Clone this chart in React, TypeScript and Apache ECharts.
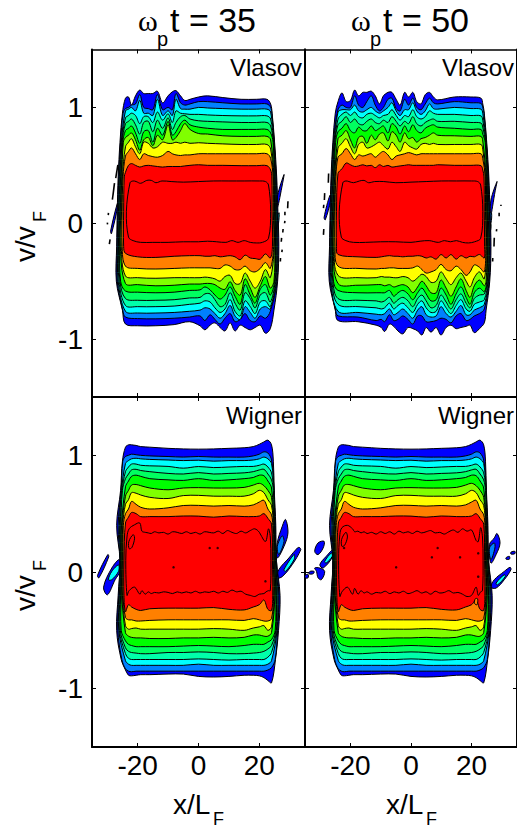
import React, { useEffect, useRef } from "react";
import * as echarts from "echarts";

const xTicks = [-20, 0, 20];
const yTicks = [-1, 0, 1];
const levelColors = ["#0000ff", "#0080ff", "#00ffff", "#00ffaa", "#00ff60", "#00ff00", "#80ff00", "#ffff00", "#ff8000", "#ff0000", "#ff0000"];
const sideStations = [0.95, 0.7, 0.4, 0.1, -0.2, -0.5, -0.75];

const vlasovLeft = [
  [-25, -25.8, -26.4, -26.7, -26.9, -27, -25],
  [-24.8, -25.6, -26.2, -26.5, -26.7, -26.7, -24.9],
  [-24.6, -25.4, -26, -26.3, -26.5, -26.4, -24.8],
  [-24.5, -25.2, -25.8, -26.1, -26.3, -26.1, -24.7],
  [-24.4, -25.1, -25.6, -25.9, -26.1, -25.8, -24.6],
  [-24.3, -24.9, -25.4, -25.7, -25.9, -25.6, -24.5],
  [-24.2, -24.7, -25.2, -25.5, -25.7, -25.3, -24.4],
  [-24.1, -24.5, -25, -25.3, -25.4, -25.1, -24.3],
  [-24, -24.3, -24.8, -25.1, -25.1, -24.8, -24.2],
  [-23.8, -24, -24.4, -24.6, -24.6, -24.4, -24],
  [-22, -23, -23.4, -23.7, -23.6, -23, -22],
];
const vlasovRight = [
  [24.2, 25, 25.7, 26.1, 26.4, 26, 24.8],
  [24.1, 24.9, 25.5, 25.9, 26.1, 25.8, 24.7],
  [24, 24.8, 25.4, 25.7, 25.9, 25.6, 24.6],
  [24, 24.7, 25.2, 25.5, 25.7, 25.4, 24.5],
  [23.9, 24.6, 25.1, 25.3, 25.5, 25.2, 24.4],
  [23.9, 24.5, 24.9, 25.2, 25.3, 25, 24.3],
  [23.8, 24.4, 24.8, 25, 25.1, 24.8, 24.2],
  [23.8, 24.3, 24.6, 24.8, 24.9, 24.6, 24.1],
  [23.7, 24.2, 24.5, 24.6, 24.7, 24.4, 24],
  [23.6, 24, 24.1, 24.2, 24.3, 24.1, 23.9],
  [22, 23, 23.4, 23.7, 23.7, 23, 22],
];
const wignerLeft = [
  [-25, -25.6, -26.9, -25.8, -26.4, -26.9, -25.4],
  [-24.9, -25.4, -26.4, -25.8, -26.2, -26.5, -25.2],
  [-24.7, -25.3, -26, -25.7, -26, -26.2, -25.1],
  [-24.5, -25.1, -25.7, -25.6, -25.8, -26, -24.9],
  [-24.3, -25, -25.5, -25.5, -25.6, -25.7, -24.7],
  [-24.2, -24.8, -25.3, -25.4, -25.4, -25.4, -24.6],
  [-24.1, -24.6, -25.1, -25.2, -25.2, -25.1, -24.5],
  [-24, -24.4, -24.9, -25, -25, -24.9, -24.4],
  [-24, -24.3, -24.7, -24.8, -24.8, -24.6, -24.3],
  [-24, -24.2, -24.4, -24.5, -24.5, -24.4, -24.2],
  [-23, -23.4, -23.8, -23.9, -23.8, -23.4, -23],
];
const wignerRight = [
  [24.6, 24.9, 25.4, 25.6, 26.8, 26.3, 25.3],
  [24.5, 24.8, 25.2, 25.6, 26.4, 26, 25.2],
  [24.4, 24.8, 25.1, 25.5, 26.1, 25.8, 25],
  [24.3, 24.7, 25, 25.4, 25.8, 25.6, 24.9],
  [24.2, 24.6, 24.9, 25.3, 25.6, 25.4, 24.7],
  [24.2, 24.5, 24.8, 25.1, 25.4, 25.2, 24.6],
  [24.1, 24.4, 24.7, 24.9, 25.1, 25, 24.5],
  [24.1, 24.3, 24.6, 24.8, 24.9, 24.8, 24.4],
  [24, 24.2, 24.4, 24.6, 24.7, 24.6, 24.3],
  [24, 24.1, 24.2, 24.3, 24.4, 24.3, 24.2],
  [23, 23.4, 23.6, 23.8, 23.8, 23.4, 23],
];

const innerTopX = [-22.5, -21.5, -20.5, -19, -17, -15.5, -14, -12, -9, -5, 0, 5, 10, 15, 20, 22, 23];
const innerBottomX = [-23, -21.5, -19, -15, -10, -5, 0, 3, 6, 9, 11, 13, 15, 17, 19, 21, 23];

// ---- Vlasov, t = 35
const a35TopX = [-24, -23, -22, -20.7, -19.3, -18, -16.5, -15, -13.5, -11.8, -10, -8.6, -7.4, -5.9, -4.5, -2.8, 0, 3, 8, 14, 19, 22.5, 23.7];
const a35Top = [
  [1.08, 1.09, 1.02, 1.10, 1.15, 1.12, 1.12, 1.12, 1.14, 1.04, 1.10, 1.135, 1.145, 1.10, 1.06, 1.07, 1.09, 1.10, 1.085, 1.07, 1.07, 1.07, 1.03],
  [0.99, 1.0, 1.02, 1.03, 1.11, 1.0, 0.99, 0.98, 1.11, 0.98, 1.0, 0.98, 1.12, 1.04, 1.02, 1.03, 1.05, 1.05, 1.04, 1.03, 1.03, 1.03, 1.0],
  [0.97, 0.985, 1.0, 0.97, 1.06, 0.95, 0.95, 0.93, 1.07, 0.93, 0.97, 0.93, 1.07, 0.99, 0.985, 0.985, 1.0, 0.995, 0.99, 0.985, 0.985, 0.985, 0.96],
  [0.91, 0.93, 0.95, 0.93, 0.86, 0.92, 0.92, 0.87, 0.96, 0.89, 0.945, 0.87, 0.97, 0.95, 0.945, 0.94, 0.94, 0.935, 0.93, 0.927, 0.927, 0.927, 0.9],
  [0.86, 0.88, 0.90, 0.85, 0.77, 0.87, 0.88, 0.79, 0.89, 0.82, 0.91, 0.81, 0.87, 0.92, 0.93, 0.90, 0.885, 0.88, 0.875, 0.87, 0.87, 0.87, 0.84],
  [0.80, 0.82, 0.84, 0.78, 0.69, 0.79, 0.80, 0.70, 0.82, 0.76, 0.88, 0.76, 0.79, 0.86, 0.89, 0.85, 0.83, 0.82, 0.81, 0.81, 0.81, 0.81, 0.78],
  [0.74, 0.76, 0.78, 0.72, 0.63, 0.72, 0.74, 0.67, 0.76, 0.72, 0.85, 0.72, 0.74, 0.80, 0.86, 0.81, 0.775, 0.77, 0.755, 0.75, 0.75, 0.75, 0.72],
  [0.66, 0.70, 0.73, 0.66, 0.60, 0.70, 0.69, 0.65, 0.66, 0.70, 0.69, 0.69, 0.70, 0.69, 0.70, 0.69, 0.695, 0.69, 0.685, 0.68, 0.68, 0.68, 0.64],
  [0.58, 0.62, 0.65, 0.60, 0.55, 0.60, 0.585, 0.575, 0.57, 0.585, 0.62, 0.60, 0.59, 0.585, 0.59, 0.59, 0.60, 0.60, 0.60, 0.60, 0.60, 0.60, 0.56],
  [0.44, 0.50, 0.515, 0.50, 0.485, 0.495, 0.50, 0.495, 0.49, 0.485, 0.49, 0.49, 0.49, 0.49, 0.495, 0.50, 0.505, 0.50, 0.50, 0.497, 0.497, 0.497, 0.46],
];
const a35InnerTop = [0.35, 0.365, 0.36, 0.345, 0.37, 0.37, 0.35, 0.365, 0.36, 0.355, 0.36, 0.365, 0.365, 0.365, 0.365, 0.36, 0.33];
const a35BottomX = [-24, -20, -14, -8, -3, 0.5, 2.1, 3.8, 5.4, 7.1, 8.7, 10.4, 12, 13.7, 15.3, 17, 18.6, 20.3, 22, 23.6];
const a35Bottom = [
  [-0.87, -0.885, -0.885, -0.875, -0.85, -0.885, -0.92, -0.88, -0.86, -0.90, -0.93, -0.86, -0.93, -0.88, -0.90, -0.92, -0.90, -0.88, -0.95, -0.91],
  [-0.81, -0.823, -0.825, -0.82, -0.81, -0.80, -0.84, -0.79, -0.83, -0.87, -0.82, -0.78, -0.85, -0.83, -0.78, -0.84, -0.85, -0.80, -0.82, -0.76],
  [-0.76, -0.775, -0.775, -0.77, -0.76, -0.75, -0.73, -0.74, -0.78, -0.82, -0.78, -0.71, -0.80, -0.83, -0.72, -0.77, -0.82, -0.74, -0.72, -0.74],
  [-0.71, -0.72, -0.72, -0.715, -0.70, -0.69, -0.67, -0.68, -0.73, -0.77, -0.74, -0.66, -0.76, -0.80, -0.67, -0.72, -0.78, -0.68, -0.67, -0.72],
  [-0.65, -0.665, -0.665, -0.66, -0.645, -0.64, -0.61, -0.61, -0.66, -0.72, -0.70, -0.60, -0.69, -0.75, -0.60, -0.65, -0.73, -0.62, -0.60, -0.68],
  [-0.585, -0.595, -0.60, -0.595, -0.58, -0.575, -0.55, -0.575, -0.62, -0.655, -0.62, -0.55, -0.63, -0.70, -0.53, -0.62, -0.69, -0.57, -0.53, -0.62],
  [-0.52, -0.53, -0.54, -0.535, -0.525, -0.525, -0.52, -0.52, -0.53, -0.56, -0.57, -0.505, -0.58, -0.62, -0.48, -0.56, -0.64, -0.54, -0.46, -0.56],
  [-0.455, -0.47, -0.475, -0.47, -0.47, -0.47, -0.465, -0.47, -0.48, -0.50, -0.46, -0.45, -0.52, -0.52, -0.43, -0.50, -0.56, -0.50, -0.40, -0.47],
  [-0.37, -0.39, -0.395, -0.39, -0.385, -0.385, -0.385, -0.385, -0.39, -0.39, -0.36, -0.37, -0.40, -0.40, -0.37, -0.41, -0.42, -0.39, -0.34, -0.39],
  [-0.26, -0.29, -0.295, -0.285, -0.28, -0.28, -0.285, -0.285, -0.28, -0.29, -0.285, -0.28, -0.29, -0.315, -0.275, -0.30, -0.305, -0.31, -0.265, -0.30],
];
const a35InnerBottom = [-0.12, -0.15, -0.165, -0.165, -0.165, -0.16, -0.16, -0.155, -0.16, -0.165, -0.15, -0.165, -0.15, -0.165, -0.17, -0.165, -0.13];

// ---- Vlasov, t = 50
const b50TopX = [-24.1, -22.8, -21.4, -20, -18.6, -17.3, -15.9, -14.6, -13.1, -11.8, -10.4, -9.1, -7.6, -6.3, -4.9, -3.6, -2.1, -0.8, 0.6, 1.9, 3.3, 4.7, 6.1, 7.4, 8.8, 14.3, 19.8, 23.1, 23.7];
const b50Top = [
  [1.05, 1.125, 1.05, 1.06, 1.15, 1.10, 1.13, 1.13, 1.14, 1.10, 1.03, 1.10, 1.13, 1.13, 1.07, 1.02, 1.13, 1.09, 1.13, 1.05, 1.03, 1.11, 1.13, 1.09, 1.065, 1.09, 1.09, 1.08, 1.03],
  [0.98, 1.02, 1.0, 1.0, 1.10, 1.02, 1.0, 1.05, 1.10, 1.02, 0.97, 1.0, 1.07, 1.08, 0.99, 0.97, 1.07, 1.02, 1.08, 1.0, 0.98, 1.03, 1.08, 1.04, 1.03, 1.05, 1.04, 1.035, 1.0],
  [0.96, 0.98, 0.98, 0.98, 1.02, 0.97, 0.96, 0.98, 1.0, 0.97, 0.95, 0.97, 1.0, 1.04, 0.97, 0.93, 0.98, 0.98, 1.04, 0.97, 0.94, 0.97, 1.03, 0.99, 0.985, 1.0, 0.99, 0.985, 0.95],
  [0.90, 0.94, 0.96, 0.93, 0.96, 0.92, 0.91, 0.94, 0.95, 0.93, 0.91, 0.93, 0.94, 0.98, 0.93, 0.89, 0.93, 0.92, 0.98, 0.92, 0.90, 0.92, 0.97, 0.95, 0.94, 0.94, 0.93, 0.927, 0.89],
  [0.85, 0.88, 0.92, 0.87, 0.90, 0.86, 0.85, 0.88, 0.90, 0.87, 0.86, 0.89, 0.87, 0.92, 0.88, 0.84, 0.88, 0.86, 0.92, 0.86, 0.84, 0.87, 0.89, 0.90, 0.88, 0.88, 0.87, 0.865, 0.83],
  [0.79, 0.82, 0.86, 0.80, 0.78, 0.83, 0.80, 0.80, 0.84, 0.80, 0.82, 0.84, 0.78, 0.86, 0.83, 0.77, 0.84, 0.79, 0.85, 0.80, 0.78, 0.82, 0.84, 0.85, 0.83, 0.82, 0.81, 0.81, 0.77],
  [0.73, 0.76, 0.80, 0.72, 0.65, 0.74, 0.75, 0.69, 0.76, 0.72, 0.77, 0.78, 0.71, 0.79, 0.76, 0.70, 0.78, 0.73, 0.74, 0.70, 0.73, 0.74, 0.76, 0.78, 0.76, 0.755, 0.75, 0.75, 0.71],
  [0.65, 0.69, 0.73, 0.66, 0.60, 0.68, 0.70, 0.65, 0.66, 0.68, 0.70, 0.67, 0.64, 0.70, 0.66, 0.62, 0.70, 0.67, 0.65, 0.64, 0.68, 0.69, 0.68, 0.69, 0.68, 0.68, 0.68, 0.68, 0.64],
  [0.57, 0.60, 0.645, 0.60, 0.55, 0.59, 0.58, 0.59, 0.60, 0.57, 0.60, 0.62, 0.59, 0.55, 0.58, 0.59, 0.60, 0.61, 0.60, 0.59, 0.60, 0.60, 0.60, 0.60, 0.60, 0.60, 0.60, 0.60, 0.56],
  [0.43, 0.47, 0.52, 0.505, 0.49, 0.495, 0.505, 0.495, 0.50, 0.48, 0.505, 0.49, 0.50, 0.485, 0.49, 0.495, 0.50, 0.505, 0.50, 0.50, 0.50, 0.50, 0.50, 0.50, 0.505, 0.50, 0.50, 0.497, 0.46],
];
const b50InnerTop = [0.35, 0.365, 0.36, 0.35, 0.365, 0.37, 0.35, 0.36, 0.36, 0.35, 0.355, 0.36, 0.365, 0.365, 0.365, 0.36, 0.33];
const b50BottomX = [-24.1, -17.5, -11.5, -9.8, -8.7, -7.1, -5.7, -4.3, -2.7, -1, 0.6, 2.2, 3.6, 5, 6.6, 8.3, 9.9, 11.6, 13.2, 14.9, 16.5, 18.2, 19.5, 20.9, 22.6, 24.2];
const b50Bottom = [
  [-0.84, -0.85, -0.88, -0.90, -0.935, -0.87, -0.89, -0.93, -0.955, -0.90, -0.91, -0.93, -0.965, -0.90, -0.94, -0.90, -0.965, -0.90, -0.88, -0.91, -0.90, -0.89, -0.88, -0.945, -0.91, -0.86],
  [-0.80, -0.81, -0.84, -0.83, -0.85, -0.79, -0.84, -0.83, -0.80, -0.83, -0.87, -0.80, -0.80, -0.85, -0.85, -0.84, -0.82, -0.83, -0.86, -0.80, -0.78, -0.84, -0.83, -0.80, -0.78, -0.74],
  [-0.76, -0.77, -0.785, -0.79, -0.78, -0.74, -0.79, -0.77, -0.74, -0.78, -0.82, -0.75, -0.72, -0.79, -0.81, -0.80, -0.72, -0.78, -0.81, -0.76, -0.71, -0.79, -0.79, -0.75, -0.73, -0.70],
  [-0.70, -0.72, -0.73, -0.74, -0.73, -0.69, -0.74, -0.71, -0.69, -0.73, -0.77, -0.70, -0.67, -0.73, -0.77, -0.76, -0.67, -0.73, -0.78, -0.71, -0.66, -0.74, -0.76, -0.70, -0.68, -0.66],
  [-0.65, -0.665, -0.67, -0.68, -0.67, -0.64, -0.69, -0.66, -0.64, -0.67, -0.72, -0.65, -0.62, -0.67, -0.73, -0.71, -0.62, -0.68, -0.74, -0.66, -0.61, -0.69, -0.73, -0.65, -0.62, -0.61],
  [-0.58, -0.60, -0.60, -0.60, -0.60, -0.58, -0.63, -0.60, -0.58, -0.61, -0.66, -0.60, -0.56, -0.61, -0.67, -0.66, -0.56, -0.62, -0.70, -0.61, -0.55, -0.64, -0.70, -0.60, -0.56, -0.59],
  [-0.52, -0.535, -0.53, -0.53, -0.54, -0.53, -0.55, -0.54, -0.53, -0.55, -0.60, -0.55, -0.50, -0.54, -0.60, -0.60, -0.49, -0.56, -0.63, -0.55, -0.48, -0.58, -0.64, -0.54, -0.49, -0.54],
  [-0.45, -0.47, -0.47, -0.46, -0.465, -0.465, -0.47, -0.47, -0.46, -0.47, -0.50, -0.47, -0.44, -0.46, -0.51, -0.50, -0.42, -0.48, -0.53, -0.47, -0.43, -0.50, -0.55, -0.47, -0.42, -0.48],
  [-0.37, -0.39, -0.395, -0.39, -0.39, -0.385, -0.385, -0.39, -0.39, -0.39, -0.385, -0.37, -0.40, -0.43, -0.42, -0.40, -0.355, -0.40, -0.41, -0.37, -0.40, -0.45, -0.42, -0.36, -0.38, -0.42],
  [-0.27, -0.29, -0.295, -0.29, -0.285, -0.28, -0.285, -0.285, -0.29, -0.285, -0.285, -0.28, -0.285, -0.30, -0.29, -0.31, -0.27, -0.30, -0.27, -0.31, -0.28, -0.30, -0.285, -0.29, -0.27, -0.30],
];
const b50InnerBottom = [-0.12, -0.15, -0.165, -0.165, -0.16, -0.16, -0.165, -0.155, -0.15, -0.165, -0.15, -0.16, -0.15, -0.165, -0.17, -0.16, -0.13];

// ---- Wigner (both times share the outer contours)
const wignerX = [-24, -23, -22, -20.5, -19, -16, -10, -5, 0, 5, 10, 15, 18, 20, 21.5, 22.8, 24];
const wignerTop = [
  [1.07, 1.09, 1.09, 1.085, 1.075, 1.07, 1.06, 1.055, 1.053, 1.055, 1.06, 1.065, 1.075, 1.095, 1.115, 1.13, 1.09],
  [0.99, 1.0, 1.01, 1.005, 1.0, 0.995, 0.99, 0.985, 0.99, 0.985, 0.985, 0.985, 0.995, 1.01, 1.03, 1.02, 0.96],
  [0.93, 0.955, 0.97, 0.975, 0.97, 0.965, 0.96, 0.955, 0.958, 0.95, 0.955, 0.955, 0.96, 0.97, 0.985, 0.97, 0.93],
  [0.86, 0.90, 0.925, 0.925, 0.915, 0.91, 0.905, 0.89, 0.904, 0.895, 0.90, 0.905, 0.905, 0.915, 0.925, 0.90, 0.85],
  [0.80, 0.84, 0.875, 0.88, 0.87, 0.86, 0.845, 0.84, 0.852, 0.84, 0.845, 0.85, 0.86, 0.875, 0.88, 0.84, 0.79],
  [0.73, 0.78, 0.82, 0.83, 0.82, 0.80, 0.79, 0.785, 0.80, 0.785, 0.79, 0.80, 0.81, 0.83, 0.825, 0.78, 0.72],
  [0.65, 0.70, 0.745, 0.75, 0.74, 0.72, 0.705, 0.72, 0.723, 0.72, 0.72, 0.725, 0.745, 0.76, 0.74, 0.70, 0.64],
  [0.58, 0.62, 0.68, 0.675, 0.66, 0.64, 0.63, 0.655, 0.657, 0.65, 0.65, 0.65, 0.67, 0.70, 0.68, 0.62, 0.57],
  [0.50, 0.54, 0.605, 0.58, 0.555, 0.54, 0.55, 0.57, 0.571, 0.565, 0.57, 0.565, 0.575, 0.60, 0.615, 0.54, 0.49],
  [0.42, 0.47, 0.51, 0.50, 0.475, 0.475, 0.475, 0.48, 0.479, 0.47, 0.48, 0.475, 0.475, 0.48, 0.50, 0.46, 0.41],
];
const wignerBottom = [
  [-0.84, -0.885, -0.89, -0.885, -0.88, -0.88, -0.875, -0.875, -0.895, -0.90, -0.895, -0.885, -0.885, -0.89, -0.905, -0.93, -0.95],
  [-0.83, -0.85, -0.855, -0.85, -0.85, -0.85, -0.85, -0.85, -0.85, -0.85, -0.85, -0.85, -0.85, -0.85, -0.85, -0.84, -0.82],
  [-0.76, -0.79, -0.80, -0.80, -0.80, -0.80, -0.80, -0.80, -0.79, -0.80, -0.80, -0.80, -0.80, -0.80, -0.80, -0.79, -0.76],
  [-0.70, -0.74, -0.75, -0.75, -0.75, -0.75, -0.75, -0.75, -0.745, -0.75, -0.755, -0.75, -0.75, -0.75, -0.75, -0.73, -0.69],
  [-0.65, -0.68, -0.69, -0.695, -0.70, -0.70, -0.69, -0.69, -0.685, -0.69, -0.70, -0.70, -0.695, -0.69, -0.68, -0.66, -0.63],
  [-0.59, -0.62, -0.63, -0.64, -0.64, -0.64, -0.64, -0.635, -0.63, -0.635, -0.64, -0.63, -0.62, -0.62, -0.62, -0.60, -0.58],
  [-0.52, -0.55, -0.56, -0.565, -0.565, -0.57, -0.57, -0.565, -0.565, -0.56, -0.565, -0.56, -0.54, -0.54, -0.55, -0.55, -0.52],
  [-0.46, -0.49, -0.485, -0.48, -0.49, -0.49, -0.49, -0.49, -0.49, -0.485, -0.49, -0.50, -0.48, -0.47, -0.46, -0.50, -0.47],
  [-0.39, -0.41, -0.41, -0.42, -0.42, -0.415, -0.41, -0.41, -0.41, -0.41, -0.41, -0.415, -0.40, -0.41, -0.42, -0.42, -0.40],
  [-0.34, -0.28, -0.30, -0.32, -0.33, -0.315, -0.31, -0.31, -0.31, -0.305, -0.32, -0.325, -0.30, -0.28, -0.24, -0.32, -0.33],
];
const wignerInnerX = [-23.5, -22.8, -21, -19.3, -18.6, -17.5, -16.5, -15.5, -14.5, -13, -11.5, -10, -8.5, -7, -5.5, -4, -2.5, -1, 0.5, 2, 3.5, 5, 6.5, 8, 9.5, 11, 12.5, 14, 15.5, 17, 18.5, 20, 21.5, 22.2, 23, 23.6];
const c35InnerTop = [0.30, 0.37, 0.405, 0.42, 0.35, 0.34, 0.335, 0.33, 0.345, 0.335, 0.34, 0.325, 0.345, 0.34, 0.33, 0.345, 0.33, 0.34, 0.325, 0.345, 0.34, 0.335, 0.35, 0.33, 0.355, 0.34, 0.33, 0.35, 0.335, 0.355, 0.37, 0.34, 0.27, 0.265, 0.37, 0.30];
const c35InnerBottom = [-0.20, -0.16, -0.13, -0.19, -0.16, -0.19, -0.17, -0.185, -0.175, -0.18, -0.17, -0.175, -0.185, -0.17, -0.18, -0.17, -0.18, -0.165, -0.18, -0.17, -0.175, -0.165, -0.18, -0.165, -0.175, -0.155, -0.17, -0.165, -0.19, -0.20, -0.21, -0.19, -0.185, -0.17, -0.16, -0.16];
const d50InnerTop = [0.32, 0.38, 0.40, 0.37, 0.345, 0.35, 0.335, 0.345, 0.33, 0.34, 0.325, 0.345, 0.33, 0.345, 0.325, 0.35, 0.335, 0.345, 0.33, 0.35, 0.335, 0.345, 0.355, 0.335, 0.34, 0.325, 0.345, 0.36, 0.34, 0.37, 0.35, 0.36, 0.27, 0.26, 0.38, 0.30];
const d50InnerBottom = [-0.21, -0.17, -0.13, -0.19, -0.14, -0.19, -0.16, -0.18, -0.17, -0.19, -0.175, -0.18, -0.165, -0.185, -0.17, -0.18, -0.165, -0.185, -0.175, -0.16, -0.18, -0.17, -0.19, -0.165, -0.18, -0.175, -0.16, -0.18, -0.175, -0.19, -0.21, -0.20, -0.13, -0.20, -0.17, -0.16];

// ---- Phase-space filaments outside the main body: [colour, x, v, x, v, ...]
const a35Filaments: (string | number)[][] = [
  ["#0000ff", -26.7, 0.17, -26.5, 0.15, -28.6, -0.09, -28.9, -0.07],
  ["#0000ff", 28.1, 0.42, 27.6, 0.34, 26.0, 0.14, 26.0, 0.24],
  ["#00ffff", 26.5, 0.09, 26.3, 0.0, 25.8, -0.05, 25.9, 0.06],
];
const a35Dashes = [
  [-26.5, 0.505, -27.2, 0.39], [-27.6, 0.347, -28.3, 0.204], [-29.6, 0.09, -29.65, 0.07], [-29.9, 0.005, -29.95, -0.01], [-29.05, -0.14, -29.3, -0.18],
  [29.4, 0.19, 29.3, 0.13], [28.4, 0.1, 28.4, 0.07], [28.4, 0.02, 28.3, -0.0], [27.8, -0.05, 27.7, -0.08], [27.3, -0.126, 27.2, -0.16], [27.5, -0.227, 27.4, -0.25], [26.95, -0.3, 26.9, -0.33],
];
const b50Filaments: (string | number)[][] = [
  ["#0000ff", -26.8, 0.24, -26.5, 0.2, -28.3, 0.03, -28.7, 0.05],
  ["#0000ff", 28.4, 0.36, 27.8, 0.28, 26.3, 0.06, 26.4, 0.2],
  ["#0080ff", 26.6, 0.09, 26.4, 0.0, 25.9, 0.0, 26.0, 0.09],
  ["#00ffff", 26.4, 0.0, 26.3, -0.06, 25.8, -0.08, 25.9, 0.0],
];
const b50Dashes = [
  [-27.2, 0.43, -27.3, 0.35], [-28.5, 0.26, -28.6, 0.2], [-28.8, 0.16, -28.9, 0.13], [-28.8, -0.05, -28.9, -0.1],
  [29.7, 0.16, 29.7, 0.15], [29.1, 0.09, 29.1, 0.06], [28.3, -0.05, 28.2, -0.07], [27.5, -0.126, 27.4, -0.2], [27, -0.3, 26.95, -0.33],
];
const c35Filaments: (string | number)[][] = [
  ["#0000ff", -29.8, 0.15, -29.5, 0.13, -32.7, -0.05, -33.2, -0.03],
  ["#0000ff", -26, 0.106, -28.5, 0.034, -31.2, -0.13, -29.9, -0.195, -27.4, -0.066, -25.8, 0.005],
  ["#00ffff", -26.3, 0.06, -28.5, 0.005, -29.6, -0.066, -28.5, -0.066, -26.3, 0.005],
  ["#0000ff", 25.9, 0.25, 27.5, 0.39, 28.6, 0.45, 29.4, 0.335, 28.1, 0.22, 25.9, 0.12],
  ["#0080ff", 25.9, 0.22, 27.5, 0.31, 28.1, 0.26, 26.4, 0.15],
  ["#0000ff", 33.2, 0.21, 32.5, 0.206, 29.7, 0.12, 26.4, 0.02, 25.9, -0.05, 27.5, -0.04, 30.8, 0.063, 33.6, 0.19],
  ["#00ffff", 31.4, 0.15, 28.1, 0.02, 28.6, 0.005, 31.4, 0.106],
];
const d50Filaments: (string | number)[][] = [
  ["#0000ff", -28.7, 0.263, -30.7, 0.249, -31.8, 0.177, -30.7, 0.149, -29, 0.206],
  ["#0000ff", -25.8, 0.19, -28, 0.134, -30.1, 0.063, -29, 0.034, -25.8, 0.134],
  ["#00ffff", -26.3, 0.163, -28.5, 0.091, -28, 0.077, -26, 0.134],
  ["#0000ff", -31.8, 0.034, -30.1, 0.034, -28.5, 0.005, -29.6, -0.066, -30.7, -0.05, -31.2, 0.005],
  ["#0000ff", -33.4, 0.005, -32, 0.005, -32.3, -0.015, -33.7, -0.015],
  ["#0000ff", -35, -0.03, -34, -0.02, -34, -0.05, -35, -0.05],
  ["#0000ff", 25.9, 0.235, 27.5, 0.292, 28.4, 0.33, 29.4, 0.249, 28.1, 0.149, 26.4, 0.077],
  ["#0080ff", 25.9, 0.206, 27.5, 0.249, 27.7, 0.206, 26.4, 0.106],
  ["#0000ff", 32.7, 0.04, 30.8, 0.005, 27.5, -0.066, 26.4, -0.13, 28.1, -0.138, 30.8, -0.066, 33, 0.02],
  ["#00ffff", 30.8, -0.023, 28.1, -0.095, 28.6, -0.11, 31.1, -0.04],
  ["#0000ff", 33, 0.17, 34.3, 0.177, 34.3, 0.157, 33, 0.154],
  ["#0000ff", 31.4, 0.123, 32.5, 0.134, 32.5, 0.11, 31.4, 0.11],
];
const c35Islands: (string | number)[][] = [["#ff0000", -21.5, 0.32, -21.0, 0.29, -21.9, 0.21, -22.8, 0.2, -22.9, 0.26]];
const d50Islands: (string | number)[][] = [
  ["#ff0000", -21.5, 0.34, -21.0, 0.3, -21.9, 0.23, -22.8, 0.22, -22.9, 0.28],
  ["#ff8000", 22, -0.23, 21.2, -0.23, 21.0, -0.27, 21.8, -0.28],
];
const c35Dots = [[3.68, 0.206], [6.3, 0.206], [-8.2, 0.04], [22, -0.08]];
const d50Dots = [[-22.1, 0.206], [8.8, 0.206], [6.9, 0.126], [16.2, 0.126], [-4.9, 0.04], [22.2, 0.16], [22.2, -0.04]];

type Poly = { pts: number[][]; fill: string };

function body(topX: number[], top: number[][], inTop: number[], inTopX: number[], botX: number[], bot: number[][], inBot: number[], inBotX: number[], left: number[][], right: number[][]): Poly[] {
  const out: Poly[] = [];
  for (let i = 0; i < 11; i++) {
    const tx = i === 10 ? inTopX : topX;
    const tv = i === 10 ? inTop : top[i];
    const bx = i === 10 ? inBotX : botX;
    const bv = i === 10 ? inBot : bot[i];
    const pts: number[][] = [];
    tx.forEach((x, k) => pts.push([x, tv[k]]));
    const rt = tv[tv.length - 1], rb = bv[bv.length - 1], lt = tv[0], lb = bv[0];
    sideStations.forEach((s, k) => { if (s < rt - 0.03 && s > rb + 0.03) pts.push([right[i][k], s]); });
    for (let k = bx.length - 1; k >= 0; k--) pts.push([bx[k], bv[k]]);
    for (let k = sideStations.length - 1; k >= 0; k--) {
      const s = sideStations[k];
      if (s < lt - 0.03 && s > lb + 0.03) pts.push([left[i][k], s]);
    }
    out.push({ pts, fill: levelColors[i] });
  }
  return out;
}
function toPolys(list: (string | number)[][]): Poly[] {
  return list.map((f) => {
    const pts: number[][] = [];
    for (let i = 1; i < f.length; i += 2) pts.push([f[i] as number, f[i + 1] as number]);
    return { pts, fill: f[0] as string };
  });
}

const panels = [
  { left: 92, width: 213, top: 49.5, height: 347.5, name: "Vlasov", labelX: false, labelY: true,
    polys: [...toPolys(a35Filaments), ...body(a35TopX, a35Top, a35InnerTop, innerTopX, a35BottomX, a35Bottom, a35InnerBottom, innerBottomX, vlasovLeft, vlasovRight)], dashes: a35Dashes, dots: [] as number[][] },
  { left: 305, width: 212, top: 49.5, height: 347.5, name: "Vlasov", labelX: false, labelY: false,
    polys: [...toPolys(b50Filaments), ...body(b50TopX, b50Top, b50InnerTop, innerTopX, b50BottomX, b50Bottom, b50InnerBottom, innerBottomX, vlasovLeft, vlasovRight)], dashes: b50Dashes, dots: [] as number[][] },
  { left: 92, width: 213, top: 397, height: 350, name: "Wigner", labelX: true, labelY: true,
    polys: [...toPolys(c35Filaments), ...body(wignerX, wignerTop, c35InnerTop, wignerInnerX, wignerX, wignerBottom, c35InnerBottom, wignerInnerX, wignerLeft, wignerRight), ...toPolys(c35Islands)], dashes: [] as number[][], dots: c35Dots },
  { left: 305, width: 212, top: 397, height: 350, name: "Wigner", labelX: true, labelY: false,
    polys: [...toPolys(d50Filaments), ...body(wignerX, wignerTop, d50InnerTop, wignerInnerX, wignerX, wignerBottom, d50InnerBottom, wignerInnerX, wignerLeft, wignerRight), ...toPolys(d50Islands)], dashes: [] as number[][], dots: d50Dots },
];

const SANS = "'Liberation Sans', Arial, sans-serif";

function txt(text: string, x: number, y: number, size: number, extra: any = {}) {
  return { type: "text", x, y, z: 20, rotation: extra.rotation || 0,
    style: { text, fill: "#000", fontFamily: extra.family || SANS, fontSize: size, textAlign: extra.align || "left", textVerticalAlign: "bottom" } };
}

export default function App() {
  const ref = useRef<HTMLDivElement>(null);
  useEffect(() => {
    const chart = echarts.init(ref.current!, undefined, { renderer: "svg" });
    const grid: any[] = [], xAxis: any[] = [], yAxis: any[] = [], series: any[] = [];
    const tick = { show: true, inside: true, length: 4, lineStyle: { color: "#000", width: 1 } };
    panels.forEach((p, i) => {
      grid.push({ left: p.left, width: p.width, top: p.top, height: p.height, containLabel: false });
      const xBase = { type: "value", min: -35, max: 35, gridIndex: i, splitLine: { show: false }, axisLine: { onZero: false, lineStyle: { color: "#000", width: 2 } } };
      xAxis.push({ ...xBase, position: "bottom",
        axisTick: { ...tick, customValues: xTicks },
        axisLabel: { show: p.labelX, customValues: xTicks, fontFamily: SANS, fontSize: 28, color: "#000", margin: 4, hideOverlap: false } });
      xAxis.push({ ...xBase, position: "top", axisLine: { onZero: false, lineStyle: { color: "#000", width: 1.5 } },
        axisTick: { ...tick, customValues: xTicks }, axisLabel: { show: false } });
      const yBase = { type: "value", min: -1.5, max: 1.5, gridIndex: i, splitLine: { show: false }, axisLine: { onZero: false, lineStyle: { color: "#000", width: 2 } } };
      yAxis.push({ ...yBase, position: "left",
        axisTick: { ...tick, customValues: yTicks },
        axisLabel: { show: p.labelY, customValues: yTicks, fontFamily: SANS, fontSize: 28, color: "#000", margin: 9 } });
      yAxis.push({ ...yBase, position: "right",
        axisTick: { ...tick, customValues: yTicks }, axisLabel: { show: false } });
      const xIdx = i * 2, yIdx = i * 2;
      series.push({
        type: "custom", xAxisIndex: xIdx, yAxisIndex: yIdx, clip: true, silent: true, z: 2,
        data: p.polys.map((_, k) => [k]),
        encode: { x: [], y: [] },
        renderItem: (_: any, api: any) => {
          const poly = p.polys[api.value(0)];
          return { type: "polygon", shape: { points: poly.pts.map((q) => api.coord(q)), smooth: 0.35 },
            style: { fill: poly.fill, stroke: "#000", lineWidth: 1 } };
        },
      });
      if (p.dashes.length) {
        series.push({
          type: "custom", xAxisIndex: xIdx, yAxisIndex: yIdx, clip: true, silent: true, z: 3,
          data: p.dashes.map((_, k) => [k]),
          encode: { x: [], y: [] },
          renderItem: (_: any, api: any) => {
            const d = p.dashes[api.value(0)];
            const a = api.coord([d[0], d[1]]), b = api.coord([d[2], d[3]]);
            return { type: "line", shape: { x1: a[0], y1: a[1], x2: b[0], y2: b[1] }, style: { stroke: "#000", lineWidth: 1.6 } };
          },
        });
      }
      if (p.dots.length) {
        series.push({ type: "scatter", xAxisIndex: xIdx, yAxisIndex: yIdx, silent: true, z: 4, symbolSize: 2.5,
          itemStyle: { color: "#000" }, data: p.dots });
      }
    });
    const graphic: any[] = [
      txt("ω", 138, 35, 30, { family: "'Liberation Serif', serif" }),
      txt("p", 157, 49, 20),
      txt("t = 35", 170, 37, 34),
      txt("ω", 351, 35, 30, { family: "'Liberation Serif', serif" }),
      txt("p", 370, 49, 20),
      txt("t = 50", 383, 37, 34),
      txt("Vlasov", 302, 79, 24, { align: "right" }),
      txt("Vlasov", 514, 79, 24, { align: "right" }),
      txt("Wigner", 302, 427, 24, { align: "right" }),
      txt("Wigner", 514, 427, 24, { align: "right" }),
      txt("x/L", 173, 818, 28),
      txt("F", 213, 828, 18),
      txt("x/L", 386, 818, 28),
      txt("F", 426, 828, 18),
      txt("v/v", 39, 262, 28, { rotation: Math.PI / 2 }),
      txt("F", 49, 222, 18, { rotation: Math.PI / 2 }),
      txt("v/v", 39, 611, 28, { rotation: Math.PI / 2 }),
      txt("F", 49, 571, 18, { rotation: Math.PI / 2 }),
    ];
    chart.setOption({ animation: false, backgroundColor: "#fff", grid, xAxis, yAxis, series, graphic });
    return () => chart.dispose();
  }, []);
  return <div ref={ref} style={{ position: "absolute", left: 0, top: 0, width: 517, height: 830 }} />;
}
